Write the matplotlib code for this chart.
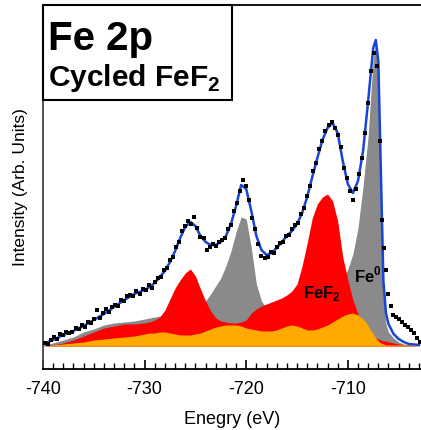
import matplotlib
matplotlib.use("Agg")
import matplotlib.pyplot as plt
from matplotlib.patches import Rectangle
from matplotlib.ticker import MultipleLocator

plt.rcParams['font.family'] = ['Liberation Sans', 'DejaVu Sans']
plt.rcParams['axes.unicode_minus'] = False
plt.rcParams['mathtext.fontset'] = 'custom'
plt.rcParams['mathtext.rm'] = 'Liberation Sans'
plt.rcParams['mathtext.bf'] = 'Liberation Sans:bold'

# energy grid of the fitted components (eV)
energy_fit = [-740, -739, -738, -737, -736, -735, -734, -733, -732, -731, -730,
              -729.5, -729, -728.5, -728, -727.5, -727, -726.5, -726, -725.5, -725,
              -724.5, -724, -723.5, -723, -722.5, -722, -721.5, -721, -720.5, -720,
              -719.5, -719, -718.5, -718, -717.5, -717, -716.5, -716, -715.5, -715,
              -714.5, -714, -713.5, -713, -712.5, -712, -711.5, -711, -710.5, -710,
              -709.5, -709, -708.5, -708.25, -708, -707.75, -707.5, -707.25, -707,
              -706.75, -706.5, -706.25, -706, -705.5, -705, -704.5, -704, -703]

# Fe0 component (grey)
fe0 = [1, 3, 6, 9, 14, 17, 21, 23, 24, 25, 27,
       28, 29, 30, 31, 32, 33, 34, 35, 36, 38,
       40, 45, 52, 60, 68, 80, 95, 114, 129, 127,
       98, 62, 45, 38, 35, 33, 33, 34, 35, 37,
       39, 41, 43, 46, 49, 52, 56, 60, 66, 77,
       92, 118, 160, 185, 210, 250, 287, 303, 275,
       150, 50, 22, 14, 8, 4, 2, 1, 0]

# FeF2 component (red)
fef2 = [0, 1, 3, 6, 10, 14, 18, 20, 22, 22, 23,
        24, 26, 29, 36, 47, 58, 66, 73, 77, 70,
        57, 45, 35, 28, 25, 24, 23, 23, 24, 26,
        33, 37, 40, 42, 44, 46, 48, 51, 55, 62,
        80, 103, 128, 142, 149, 152, 145, 125, 89, 66,
        46, 32, 20, 16, 13, 11, 9, 8, 7,
        6, 5, 5, 4, 3, 2, 1, 1, 0]

# satellite / background component (orange)
satellite = [0, 1, 2, 3, 4, 6, 7, 8, 9, 10, 12,
             13, 13, 14, 14, 13, 12, 11, 11, 11, 12,
             13, 15, 17, 19, 20, 21, 21, 21, 20, 18,
             17, 16, 15, 15, 15, 16, 18, 20, 21, 20,
             18, 16, 16, 17, 19, 21, 24, 27, 30, 32,
             33, 31, 27, 24, 20, 16, 12, 8, 5,
             3, 2, 1, 1, 1, 1, 1, 1, 0]

# fit envelope (blue)
envelope = [2, 6, 11, 15, 20, 26, 32, 39, 46, 52, 56,
            59, 63, 69, 75, 84, 95, 108, 119, 124, 120,
            110, 104, 101, 101, 104, 110, 122, 140, 161, 157,
            135, 110, 96, 91, 93, 98, 104, 110, 115, 122,
            133, 149, 169, 188, 206, 218, 223, 213, 185, 162,
            153, 165, 195, 220, 245, 272, 298, 306, 285,
            175, 65, 33, 22, 12, 7, 4, 2, 1]

# measured spectrum (black points)
energy_data = [-739.8, -739.5, -739.2, -738.9, -738.6, -738.3, -738.0, -737.7, -737.4, -737.1,
               -736.8, -736.5, -736.2, -735.9, -735.6, -735.3, -735.0, -734.7, -734.4, -734.1,
               -733.8, -733.5, -733.2, -732.9, -732.6, -732.3, -732.0, -731.7, -731.4, -731.1,
               -730.8, -730.5, -730.2, -729.9, -729.6, -729.3, -729.0, -728.7, -728.4, -728.1,
               -727.8, -727.5, -727.2, -726.9, -726.6, -726.3, -726.0, -725.7, -725.4, -725.1,
               -724.8, -724.5, -724.2, -723.9, -723.6, -723.3, -723.0, -722.7, -722.4, -722.1,
               -721.8, -721.5, -721.2, -720.9, -720.6, -720.3, -720.0, -719.7, -719.4, -719.1,
               -718.8, -718.5, -718.2, -717.9, -717.6, -717.3, -717.0, -716.7, -716.4, -716.1,
               -715.8, -715.5, -715.2, -714.9, -714.6, -714.3, -714.0, -713.7, -713.4, -713.1,
               -712.8, -712.5, -712.2, -711.9, -711.6, -711.3, -711.0, -710.7, -710.4, -710.1,
               -709.8, -709.5, -709.2, -708.9, -708.6, -708.3, -708.0, -707.7, -707.4, -707.1,
               -706.8, -706.6, -706.4, -706.2, -706.0, -705.8, -705.6, -705.3, -705.0, -704.7,
               -704.4, -704.1, -703.8, -703.5, -703.2, -702.9]
intensity_data = [3, 2, 6, 9, 7, 12, 11, 14, 13, 14,
                  18, 17, 21, 19, 24, 23, 27, 36, 28, 33,
                  37, 34, 39, 41, 40, 46, 45, 50, 51, 50,
                  55, 52, 57, 56, 61, 58, 64, 68, 69, 76,
                  78, 86, 89, 99, 104, 115, 120, 125, 122, 129,
                  118, 109, 108, 96, 99, 102, 100, 104, 106, 108,
                  117, 121, 135, 143, 155, 166, 160, 146, 128, 117,
                  102, 90, 88, 89, 94, 93, 99, 103, 104, 110,
                  111, 117, 121, 123, 132, 138, 150, 160, 175, 183,
                  197, 205, 215, 221, 224, 218, 211, 199, 178, 168,
                  155, 146, 157, 172, 188, 213, 243, 275, 293, 280,
                  205, 126, 98, 76, 52, 40, 31, 29, 27, 24,
                  21, 19, 16, 13, 8, 4]

fig = plt.figure(figsize=(4.21, 4.30), dpi=100)
ax = fig.add_axes([0.1021, 0.1419, 0.8979, 0.8465])

ax.fill_between(energy_fit, 0, fe0, color='#8a8a8a', lw=0, zorder=1)
ax.fill_between(energy_fit, 0, fef2, color='#ff0000', lw=0, zorder=2)
ax.fill_between(energy_fit, 0, satellite, color='#ffaa00', lw=0, zorder=3)
ax.plot(energy_fit, envelope, color='#1a44d6', lw=1.8, zorder=4)
ax.plot(energy_data, intensity_data, 's', color='black', ms=2.9, mew=0, zorder=5)

ax.set_xlim(-740, -702.8)
ax.set_ylim(-23, 341)

ax.xaxis.set_major_locator(MultipleLocator(10))
ax.xaxis.set_minor_locator(MultipleLocator(1))
ax.tick_params(axis='x', which='major', direction='in', length=6.5, width=1.2,
               labelsize=13, pad=9)
ax.tick_params(axis='x', which='minor', direction='in', length=4, width=1.0)
ax.set_yticks([])
ax.spines['right'].set_visible(False)
for s in ['left', 'bottom', 'top']:
    ax.spines[s].set_linewidth(1.3)
ax.spines['left'].set_color('#444444')

ax.set_xlabel('Enegry (eV)', fontsize=13, labelpad=9)
ax.set_ylabel('Intensity (Arb. Units)', fontsize=12.5)
ax.yaxis.set_label_coords(-0.04, 0.5)

# title box
ax.add_patch(Rectangle((0, 0.739), 0.5, 0.261, transform=ax.transAxes,
                       facecolor='white', edgecolor='black', lw=1.5, zorder=6,
                       clip_on=False))
ax.text(0.013, 0.876, 'Fe 2p', transform=ax.transAxes, fontsize=29,
        fontweight='bold', va='baseline', ha='left', zorder=7)
ax.text(0.013, 0.777, r'Cycled FeF$_\mathbf{2}$', transform=ax.transAxes,
        fontsize=21.5, fontweight='bold', va='baseline', ha='left', zorder=7)

ax.text(-714.4, 48, r'FeF$_\mathbf{2}$', fontsize=12, fontweight='bold',
        va='baseline', ha='left', zorder=7)
ax.text(-709.4, 64, r'Fe$^\mathbf{0}$', fontsize=12, fontweight='bold',
        va='baseline', ha='left', zorder=7)

fig.savefig('out.png', dpi=100)
